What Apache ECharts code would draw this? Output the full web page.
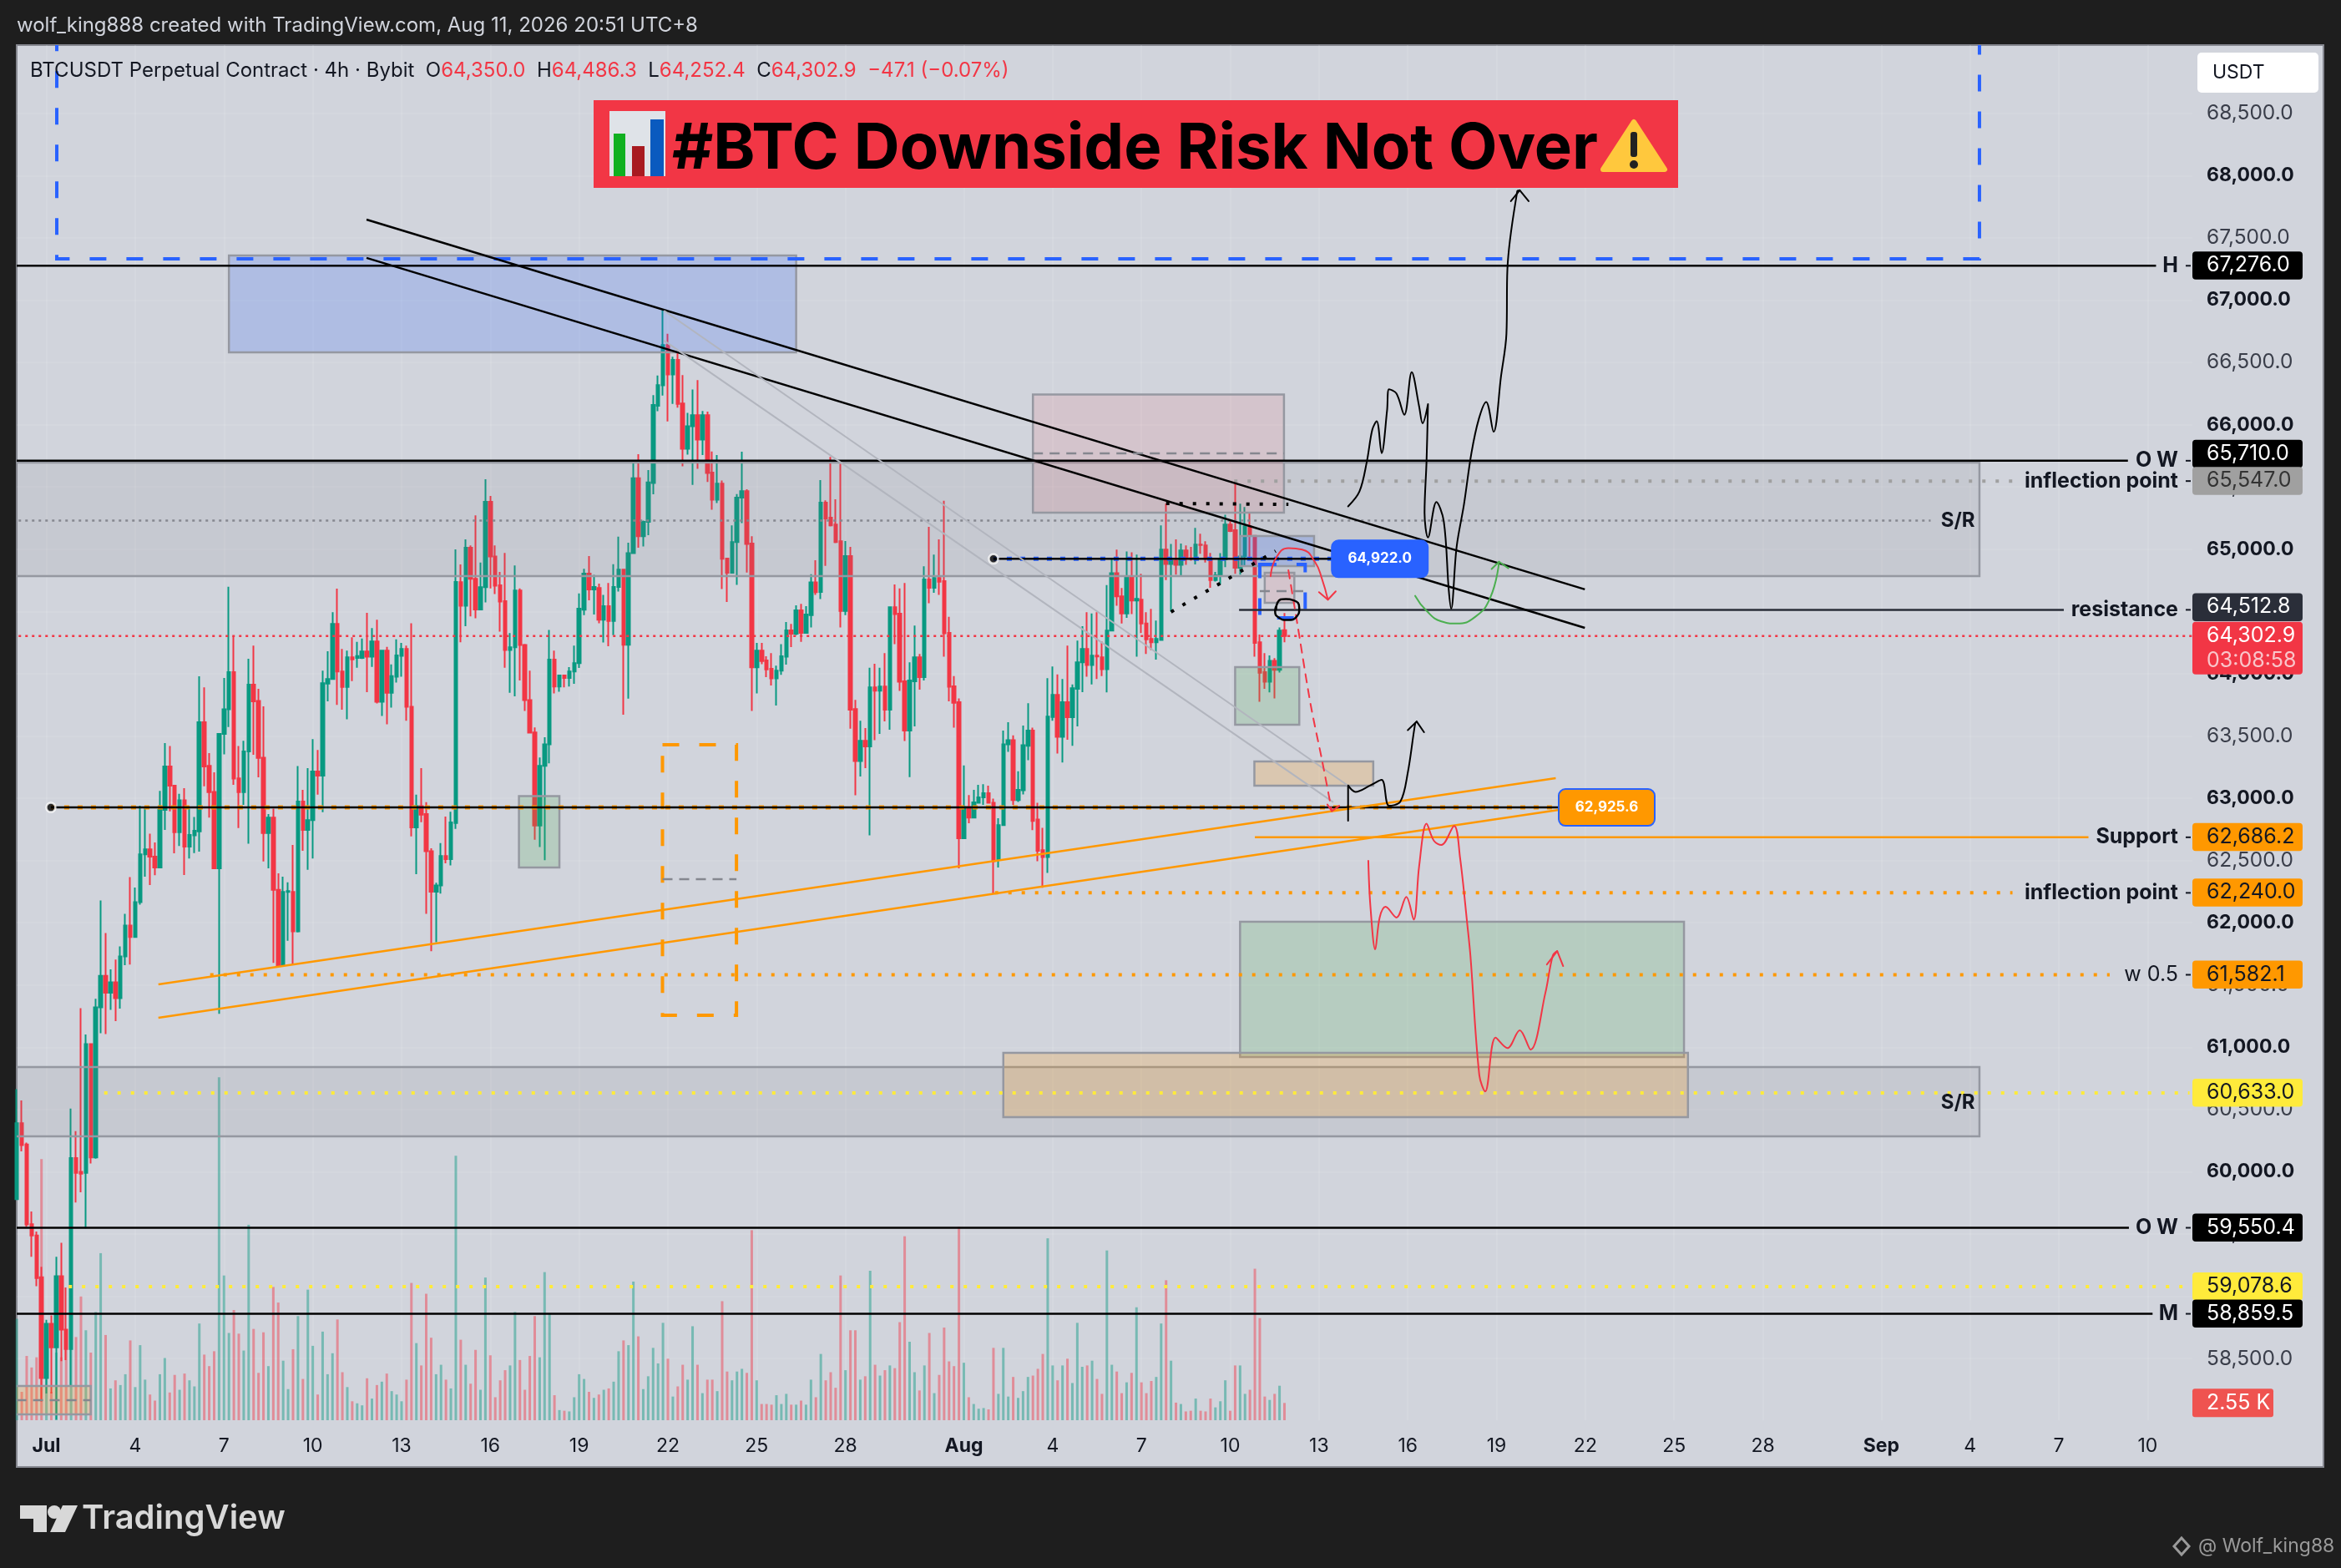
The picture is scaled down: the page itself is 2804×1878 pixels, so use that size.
<!DOCTYPE html>
<html><head><meta charset="utf-8">
<style>html,body{margin:0;padding:0;background:#1e1e1e}#c{width:2804px;height:1878px}</style>
<script src="https://cdn.jsdelivr.net/npm/echarts@6/dist/echarts.min.js"></script>
</head><body><div id="c"></div>
<script>
// 4h bars; index 0 is Jul 1 00:00, the first row is index -6.
const firstBar = -6;
// open, close, low, high
const ohlc = [
[59780,60390,59780,60664],[60391,60215,60164,60573],[60219,59578,59559,60235],[59579,59488,59318,59682],[59488,59146,59081,59520],[59153,58343,58155,59237],
[58343,58779,58220,58812],[58779,58590,58220,58847],[58590,59162,58010,59318],[59162,58733,58480,59429],[58733,58577,58487,59071],[58577,60110,58280,60508],
[60110,59991,59754,60326],[60000,59985,59835,61314],[59991,61025,59546,61103],[61025,60115,60066,61025],[60115,61320,60105,61389],[61320,61574,61112,62178],
[61574,61438,61106,61918],[61438,61522,61301,61626],[61522,61395,61210,61704],[61395,61730,61310,61810],[61730,61977,61660,62071],[61977,61886,61665,62367],
[61886,62165,61880,62282],[62165,62549,62146,62940],[62549,62589,62370,62929],[62589,62531,62303,62716],[62531,62444,62381,62645],[62444,62906,62444,63058],
[62906,63255,62745,63443],[63255,63101,62895,63420],[63101,62727,62558,63107],[62727,62984,62616,63036],[62984,62611,62383,63081],[62611,62705,62515,62917],
[62701,62739,62560,62850],[62734,63610,62571,63979],[63610,63255,63096,63890],[63260,63049,62844,63362],[63051,62437,62433,63208],[62437,63516,61268,63523],
[63516,63715,63353,63966],[63715,64013,63572,64699],[64013,63157,63107,64301],[63159,63049,62761,63420],[63049,63376,62947,63461],[63376,63912,62634,64120],
[63912,63778,63349,64225],[63782,63324,63168,63879],[63326,62721,62493,63738],[62721,62844,62437,62873],[62844,62265,61677,62917],[62265,61659,61650,62397],
[61659,62247,61655,62370],[62247,62254,61856,62325],[62247,61930,61666,62625],[61930,62973,61923,63259],[62973,62745,62578,63067],[62745,62824,62426,63242],
[62824,63215,62515,63474],[63215,63181,63029,63387],[63181,63923,62888,64024],[63921,63957,63778,64180],[63957,64399,63957,64493],[64399,64017,63749,64683],
[64017,63894,63711,64198],[63894,64131,63633,64185],[64131,64115,63940,64293],[64127,64141,64047,64255],[64127,64179,64118,64282],[64179,64136,63852,64489],
[64136,64259,64054,64366],[64259,63774,63761,64433],[63774,64185,63660,64185],[64185,63846,63593,64215],[63846,63980,63727,64074],[63975,64147,63928,64275],
[64143,64199,63975,64248],[64199,63734,63622,64226],[63734,62765,62693,64405],[62765,62937,62390,63028],[62937,62868,62808,63241],[62872,62575,62071,62968],
[62575,62250,61772,62598],[62250,62299,61844,62321],[62299,62536,62234,62640],[62536,62510,62478,62853],[62510,62805,62460,62892],[62800,64736,62753,64999],
[64735,64545,64252,64878],[64545,65012,64382,65079],[65012,64762,64460,65030],[64762,64516,64445,65272],[64516,64695,64516,64892],[64695,65381,64572,65562],
[65381,64941,64684,65428],[64941,64706,64639,65030],[64710,64579,64337,64818],[64583,64190,64047,64970],[64190,64212,63846,64326],[64212,64668,63819,64869],
[64668,64230,63946,64684],[64230,63788,63700,64239],[63788,63526,63526,64025],[63529,62781,62666,63568],[62781,63260,62608,63327],[63260,63433,62503,63490],
[63433,64113,63280,64352],[64113,63897,63842,64185],[63897,63986,63855,63986],[63986,63965,63890,63993],[63965,64017,63897,64053],[64017,64084,63919,64225],
[64084,64522,64046,64645],[64513,64803,64470,64843],[64803,64676,64590,64944],[64676,64697,64475,64793],[64688,64434,64405,64724],[64434,64542,64250,64633],
[64542,64424,64221,64729],[64424,64697,64309,64879],[64697,64836,64660,65100],[64836,64233,63670,64836],[64233,64968,63799,65052],[64968,65569,64968,65715],
[65569,65104,65011,65763],[65104,65219,65021,65230],[65219,65536,65112,65636],[65531,66158,65440,66237],[66152,66318,66108,66394],[66315,66639,66233,66919],
[66639,66403,66025,66729],[66403,66521,66166,66546],[66521,66166,66137,66584],[66170,65806,65665,66398],[65806,65987,65760,66095],[65987,66076,65516,66283],
[66076,65880,65645,66358],[65880,66076,65756,66110],[66076,65611,65540,66104],[65615,65397,65316,65785],[65397,65526,65370,65756],[65526,64923,64679,65551],
[64925,64811,64576,64929],[64811,65057,64806,65191],[65057,65414,64713,65443],[65414,65466,65209,65783],[65466,65041,64813,65481],[65046,64051,63700,65104],
[64051,64185,63841,64248],[64185,64102,64076,64248],[64107,64035,63973,64140],[64040,63962,63906,64165],[63962,64024,63745,64064],[64024,64140,63991,64237],
[64136,64348,64073,64415],[64348,64321,64214,64400],[64321,64509,64310,64549],[64509,64328,64255,64561],[64328,64476,64324,64543],[64471,64733,64371,64798],
[64733,64654,64632,64911],[64657,65374,64599,65555],[65374,65247,64865,65392],[65253,65191,65182,65741],[65198,65057,65048,65401],[65064,64503,64371,65685],
[64503,64945,64471,65066],[64945,63711,63559,65019],[63716,63298,63023,63790],[63298,63461,63175,63622],[63461,63416,63242,63564],[63416,63890,62701,64047],
[63890,63863,63466,64080],[63863,63897,63517,64047],[63897,63711,63617,64165],[63711,64534,63550,64534],[64534,64478,64237,64717],[64482,63935,63861,64684],
[63939,63544,63459,64728],[63544,63946,63170,64091],[63939,64132,63577,64386],[64132,63973,63872,64158],[63973,64757,63946,64862],[64757,64690,64565,65180],
[64690,64768,64650,64956],[64768,64739,64632,65079],[64744,64324,64136,65388],[64328,63895,63778,64456],[63899,63767,63566,63980],[63772,62679,62437,63801],
[62679,62929,62672,63264],[62929,62844,62799,63025],[62844,62967,62844,63068],[62963,63007,62956,63108],[63007,63041,62947,63112],[63041,62963,62958,63101],
[62963,62494,62236,62996],[62505,62784,62444,62840],[62784,63432,62784,63544],[63432,63466,63372,63611],[63466,62985,62947,63504],[62985,63068,62970,63216],
[63064,63426,63030,63584],[63421,63544,63305,63763],[63544,62818,62744,63566],[62829,62578,62494,62963],[62583,62527,62281,62762],[62527,63656,62400,63964],
[63652,63830,63622,64058],[63830,63493,63359,63995],[63493,63772,63287,63957],[63772,63651,63470,64226],[63651,63884,63421,63913],[63879,64092,63577,64266],
[64092,64199,63852,64382],[64199,64069,63975,64494],[64069,64145,63913,64483],[64145,64138,63957,64494],[64132,64036,63980,64259],[64036,64346,63850,64711],
[64346,64807,64346,64919],[64807,64621,64545,64997],[64621,64483,64404,64688],[64483,64780,64449,64981],[64780,64588,64478,64974],[64588,64601,64136,64956],
[64595,64404,64326,64802],[64404,64275,64159,64494],[64279,64252,64190,64521],[64252,64279,64114,64427],[64270,64997,64266,65191],[64997,64881,64751,65365],
[64881,64907,64498,65041],[64907,64874,64796,65079],[64874,64990,64780,65046],[64990,64927,64874,65030],[64927,64923,64907,65019],[64923,65037,64878,65171],
[65037,65033,64963,65124],[65030,64923,64892,65064],[64912,64751,64690,64970],[64751,64791,64740,64818],[64791,64918,64717,64968],[64918,65198,64856,65276],
[65198,65146,65137,65236],[65153,64851,64802,65526],[64851,64941,64796,65365],[64941,65182,64858,65339],[65182,65108,64918,65287],[65108,64248,64136,65108],
[64252,64007,63774,64315],[64013,63935,63879,64165],[63935,64103,63850,64147],[64103,64031,63801,64125],[64031,64346,64009,64371],[64350,64302.9,64252.4,64486.3]
];
// volume in thousands, one per bar
const volumes = [
15,4.2,9.5,7.8,9.3,38.6,8.7,4.2,10,9.3,11,15.9,12.3,18.3,13.3,10,16,24.7,12.6,4.7,5.9,5.2,6.8,11.8,4.9,11.1,6,3.8,2.9,6.8,
9.2,4.1,6.7,4.5,6.9,5.9,5,14.3,9.7,8,10.2,50.7,21.4,12.9,16.3,12.8,10.3,28.9,13.5,7,13,8,19.7,17.4,8.8,4.6,10.5,15.4,6.1,19.3,
11,3.8,13.1,6.8,9.9,14.9,7.1,4.9,2.8,2.5,2.2,6.2,3.2,5.2,5.7,6.9,4.3,3.8,2.8,6,20.3,11.4,8.1,18.7,12.2,6.8,8.2,6,4.7,39.1,
11.9,8.2,5.4,10.4,4.5,21.1,9.6,3.4,5.9,7.4,8.1,16,8.9,4.5,9.5,15.4,9.3,21.9,15.7,3.7,1.5,1.4,1.3,3.4,6.8,6.1,4.2,3.3,3.8,4.5,
4.7,5.7,10.2,11.8,11.1,20.5,12.4,4.6,6.5,10.7,8.4,14.4,9.1,3.5,5,8.2,6,13.9,8.2,4,6,6,4.3,17.6,7.2,5.9,7.2,7.6,7,28.1,
5.9,2.4,2.4,2.3,3.7,2.4,3.9,2.3,2.3,2.9,2.3,6,3.4,9.8,5.9,7.1,4.8,21.4,7.4,13.3,13.3,6,6.5,22.1,8.2,6.6,7.4,8.1,7.7,14.5,
27.2,11.6,7.1,4.4,8.1,12.9,4,6.7,13.7,8.7,8,28.6,8.5,3.4,2.4,1.7,1.8,1.6,10.7,3.9,10.7,3.5,6.4,3.3,4.3,6.4,6.6,7.6,9.8,26.9,
8.1,5.9,8.1,9.1,5.5,14.4,7.9,8.1,8.8,6.1,3.9,25.1,8.2,7.2,4,5.6,7,16.7,5.6,4,5.8,6.4,14.3,20.7,8.8,2.6,2.4,1.3,1.4,3.2,
1.4,1.3,3.2,1.9,2.8,5.9,1.4,8.1,8.1,3.9,4.5,22.4,15.1,3.5,3,3.9,5.1,2.55
];
// time axis: bar index of each label and its text
const timeTicks = [0,18,36,54,72,90,108,126,144,162,186,204,222,240,258,276,294,312,330,348,372,390,408,426];
const timeLabels = ["Jul","4","7","10","13","16","19","22","25","28","Aug","4","7","10","13","16","19","22","25","28","Sep","4","7","10"];
const priceTicks = [58500,59000,59500,60000,60500,61000,61500,62000,62500,63000,63500,64000,64500,65000,65500,66000,66500,67000,67500,68000,68500];
// price tags on the right axis
const tagPrices = [67276.0,65710.0,65547.0,64512.8,64302.9,62686.2,62240.0,61582.1,60633.0,59550.4,59078.6,58859.5];
const tagLabels = ["H","O W","inflection point","resistance","","Support","inflection point","w 0.5","","O W","","M"];
// drawings, in bar index and price: x1, p1, x2, p2, kind
const zones = [
[-10,65696,391.9,64784,"grey"],[-10,60841,391.9,60285,"grey"],[37,67359,152,66581,"blue"],[200,66242,250.9,65294,"pink"],
[242,65106,257,64864,"blue"],[247,64811,253,64569,"pink"],[241,64053,254,63590,"green"],[95.8,63017,104,62444,"green"],
[244.9,63296,269,63101,"tan"],[242,62008,332,60922,"green"],[194,60955,332.8,60439,"tan"],[-10,58280,9,58052,"tan"],
[124.9,63430,139.9,61257,"orangeDash"],[2.1,69300,391.9,67332,"blueDash"],[246,64878,255.2,64449,"blueDash"]
];
const segments = [
[-7,67276,427.7,67276,"black"],[-7,65710,422,65710,"black"],[240.8,65547,398.6,65547,"greyDots"],[241.8,64512.8,409,64512.8,"dark"],
[245,62686.2,414,62686.2,"orange"],[192.3,62240,398.6,62240,"orangeDots"],[33.2,61582.1,418.3,61582.1,"orangeDots"],[11.7,60633,434.5,60633,"yellowDots"],
[-7,59550.4,422.2,59550.4,"black"],[4.5,59078.6,434.5,59078.6,"yellowDots"],[-7,58859.5,427,58859.5,"black"],[-7,64302.9,436,64302.9,"redDots"],
[-7,65230,382,65230,"fineDots"],[0.9,62925.6,306.6,62925.6,"orangeDash"],[0.9,62925.6,306.6,62925.6,"black"],[192,64922,260.6,64922,"blueFine"],[192,64922,260.6,64922,"black"],
[64.9,67647,311.9,64677,"black"],[64.9,67339,311.9,64368,"black"],[125.2,66916,263.9,63101,"pale"],[125.2,66675,260.9,62967,"pale"],
[22.7,61505,306,63161,"orange"],[22.7,61237,306.6,62907,"orange"],[227,65367,251.8,65360,"blackDots"],[228,64496,249.2,64985,"blackDots"],
[200,65770,250.9,65770,"midDash"],[246,64663,255.2,64663,"midDash"],[124.9,62350,139.9,62350,"midDash"],[-6.1,58166,9,58166,"midDash"]
];
const blackCurve = [[263.9,65344],[266.2,65463],[267.7,65703],[268.8,65959],[269.7,66028],[270.7,65771],[271.8,66113],[272.2,66284],[273.7,66250],[275.3,66079],[276.8,66421],[278.3,66147],[279,66011],[280.1,66165],[279.8,65703],[279.4,65292],[280.1,65094],[281.8,65378],[283.3,65224],[284.3,64676],[284.8,64522],[285.9,65018],[287.4,65361],[288.9,65771],[290.4,66045],[291.9,66182],[293.4,65942],[294.9,66387],[296,66729],[296.2,67251],[298.2,67875],[298.7,67882]];
const blackHead = [[296.9,67795],[298.7,67882],[300.5,67795]];
const blackCurve2 = [[263.9,62819],[263.9,63103],[265.4,63051],[268.4,63103],[270.7,63147],[272.2,62939],[274.5,62973],[276,63205],[277.5,63599],[277.8,63616]];
const blackHead2 = [[276,63547],[277.8,63616],[279.3,63530]];
const redCurve = [[268,62497],[268.4,62145],[269.4,61786],[270.3,62042],[271.5,62128],[273.7,62042],[275.7,62207],[277.2,62025],[278.3,62453],[279.8,62795],[281.3,62658],[282.8,62624],[285.4,62778],[286.6,62521],[288.1,61974],[288.7,61736],[290.5,60777],[291.7,60645],[293.8,61077],[296.2,60993],[298.7,61137],[300.9,60981],[303.9,61437],[305.4,61736],[306.3,61772]];
const redHead = [[304.2,61665],[306.3,61772],[307.5,61652]];
const redDash = [[251.8,64830],[253.6,64403],[256.3,63753],[258.6,63308],[260.6,62897]];
const redDashHead = [[259.7,62949],[260.6,62897],[262.1,62939]];
const redArc = [[248.2,64784],[249.3,64930],[251.8,65008],[254.6,64997],[257.2,64896],[258.6,64762],[259.8,64594]];
const redArcHead = [[258,64655],[259.8,64594],[261.4,64661]];
const greenArc = [[277.5,64625],[279.8,64505],[282.8,64420],[285.9,64403],[289.6,64454],[292.7,64608],[294.5,64899]];
const greenHead = [[293,64841],[294.5,64899],[296.4,64847]];
const circleStroke = [[249.3,64516],[249.6,64572],[251.3,64599],[252.9,64588],[254,64527],[253.5,64460],[251.5,64431],[249.9,64449],[249.1,64505],[249.3,64540]];
const handles = [[0.9,62925.6],[192,64922]];
const srNotes = [[391,65230,"S/R"],[391,60553,"S/R"]];
const anchoredTags = [[260.6,64922,"64,922.0","#2962ff"],[306.6,62925.6,"62,925.6","#ff9800"]];

const FONT = 'Inter, Roboto, sans-serif';
const UP = '#089981', DOWN = '#f23645';
const tagFills = ['#000','#000','#a0a0a0','#2a2e39','#f23645','#ff9800','#ff9800','#ff9800','#ffeb3b','#000','#ffeb3b','#000'];
const tagInks = ['#fff','#fff','#333','#fff','#fff','#131722','#131722','#131722','#131722','#fff','#131722','#fff'];
const tagShifts = [0,-8,0,-3,0,0,0,0,0,0,0,0];
const tagLabelWeights = [700,700,700,700,700,700,700,400,700,700,700,700];
const zoneStyle = {
  grey:{fill:'rgba(120,123,134,0.12)',stroke:'#9598a1',lineWidth:2.5},
  blue:{fill:'rgba(41,98,255,0.2)',stroke:'#9598a1',lineWidth:2.5},
  pink:{fill:'rgba(242,54,69,0.1)',stroke:'#9598a1',lineWidth:2.5},
  green:{fill:'rgba(76,175,80,0.2)',stroke:'#9598a1',lineWidth:2.5},
  tan:{fill:'rgba(255,152,0,0.2)',stroke:'#9598a1',lineWidth:2.5},
  orangeDash:{fill:'none',stroke:'#ff9800',lineWidth:4,lineDash:[20,24]},
  blueDash:{fill:'none',stroke:'#2962ff',lineWidth:4,lineDash:[20,24]}
};
const segStyle = {
  black:{stroke:'#000',lineWidth:2.5}, dark:{stroke:'#2a2e39',lineWidth:2.5}, orange:{stroke:'#ff9800',lineWidth:2.5},
  pale:{stroke:'#b2b5be',lineWidth:2},
  greyDots:{stroke:'#a0a0a0',lineWidth:4,lineDash:[4,12]}, orangeDots:{stroke:'#ff9800',lineWidth:4,lineDash:[4,12]},
  yellowDots:{stroke:'#ffeb3b',lineWidth:4,lineDash:[4,12]}, redDots:{stroke:'#f23645',lineWidth:2.5,lineDash:[3,5]},
  fineDots:{stroke:'#85878f',lineWidth:2.5,lineDash:[3,5]}, blackDots:{stroke:'#000',lineWidth:4,lineDash:[4,12]},
  orangeDash:{stroke:'#ff9800',lineWidth:5,lineDash:[6,10]}, blueFine:{stroke:'#2962ff',lineWidth:5,lineDash:[6,10]},
  midDash:{stroke:'#85878f',lineWidth:2.5,lineDash:[12,8]}
};
const PANE_LEFT=20, PANE_RIGHT=2626, PANE_TOP=54, PANE_BOTTOM=1701, BAR_PX=5.908;
const X_MIN = (PANE_LEFT-55.6)/BAR_PX, X_MAX = X_MIN + (PANE_RIGHT-PANE_LEFT)/BAR_PX;
const Y_MIN = 58005, Y_MAX = 69048;

const candleData = ohlc.map((r,i)=>[i+firstBar,r[0],r[1],r[2],r[3]]);
const volData = volumes.map((v,i)=>({value:[i+firstBar,v],itemStyle:{color:(ohlc[i][1]>=ohlc[i][0])?'rgba(8,153,129,0.45)':'rgba(242,54,69,0.45)'}}));

function curve(data,color,width,smooth,dash){
  return {type:'line',data,xAxisIndex:0,yAxisIndex:0,symbol:'none',smooth:smooth,z:8,silent:true,clip:true,animation:false,
    lineStyle:{color,width,type:dash||'solid',join:'round',cap:'round'}};
}
function indexSeries(arr,render,extra){
  return Object.assign({type:'custom',data:arr.map((_,k)=>[k]),encode:{x:-1,y:-1},xAxisIndex:0,yAxisIndex:0,renderItem:render,silent:true,animation:false},extra);
}

const chart = echarts.init(document.getElementById('c'),null,{renderer:'canvas',width:2804,height:1878});
const axisCommon = {type:'value',min:X_MIN,max:X_MAX,axisLine:{show:false},axisTick:{show:false}};
chart.setOption({
  animation:false,
  backgroundColor:'#1e1e1e',
  grid:[
    {left:PANE_LEFT,width:PANE_RIGHT-PANE_LEFT,top:PANE_TOP,height:PANE_BOTTOM-PANE_TOP},
    {left:PANE_LEFT,width:PANE_RIGHT-PANE_LEFT,top:1000,height:PANE_BOTTOM-1000}
  ],
  xAxis:[
    Object.assign({},axisCommon,{gridIndex:0,splitLine:{show:true,lineStyle:{color:'rgba(255,255,255,0.10)',width:2}},
      axisTick:{show:false,customValues:timeTicks},
      axisLabel:{customValues:timeTicks,margin:20,hideOverlap:false,fontFamily:FONT,
        formatter:v=>{const t=timeLabels[timeTicks.indexOf(v)]; return /[A-Z]/.test(t)?'{b|'+t+'}':'{r|'+t+'}';},
        rich:{b:{fontSize:23,fontWeight:700,color:'#131722',fontFamily:FONT},r:{fontSize:23,color:'#131722',fontFamily:FONT}}}}),
    Object.assign({},axisCommon,{gridIndex:1,show:false,splitLine:{show:false}})
  ],
  yAxis:[
    {type:'value',gridIndex:0,position:'right',min:Y_MIN,max:Y_MAX,axisLine:{show:false},axisTick:{show:false,customValues:priceTicks},
      splitLine:{show:true,lineStyle:{color:'rgba(255,255,255,0.07)',width:2}},
      axisLabel:{customValues:priceTicks,margin:17,align:'left',showMinLabel:true,showMaxLabel:true,hideOverlap:false,fontFamily:FONT,
        formatter:v=>{const t=v.toLocaleString('en-US',{minimumFractionDigits:1}); return v%1000===0?'{b|'+t+'}':'{r|'+t+'}';},
        rich:{b:{fontSize:23,fontWeight:700,color:'#131722',fontFamily:FONT},r:{fontSize:24.5,color:'#3a3e4a',fontFamily:FONT}}}},
    {type:'value',gridIndex:1,min:0,max:(PANE_BOTTOM-1000)/8.1,show:false,splitLine:{show:false}}
  ],
  graphic:[
    {type:'rect',z:-10,shape:{x:20,y:54,width:2763,height:1703},style:{fill:'#d1d4dc',stroke:'#85878f',lineWidth:2}},
    {type:'text',z:100,x:20,y:31,style:{text:'wolf_king888 created with TradingView.com, Aug 11, 2026 20:51 UTC+8',fill:'#d1d4dc',font:'24px '+FONT,textVerticalAlign:'middle'}},
    {type:'text',z:100,x:36,y:85,style:{text:'{k|BTCUSDT Perpetual Contract · 4h · Bybit}  {k|O}{v|64,350.0}  {k|H}{v|64,486.3}  {k|L}{v|64,252.4}  {k|C}{v|64,302.9}  {v|−47.1 (−0.07%)}',
      textVerticalAlign:'middle',font:'24px '+FONT,rich:{k:{fill:'#131722',font:'24px '+FONT},v:{fill:'#f23645',font:'24px '+FONT}}}},
    {type:'rect',z:100,shape:{x:2632,y:63,width:145,height:48,r:5},style:{fill:'#fff'}},
    {type:'text',z:101,x:2650,y:87,style:{text:'USDT',fill:'#131722',font:'23px '+FONT,textVerticalAlign:'middle'}},
    {type:'rect',z:100,shape:{x:711,y:120,width:1299,height:105},style:{fill:'#f23645'}},
    {type:'rect',z:101,shape:{x:730,y:133,width:67,height:78},style:{fill:'#dfe3e8'}},
    {type:'rect',z:102,shape:{x:735,y:160,width:14,height:51},style:{fill:'#10b020'}},
    {type:'rect',z:102,shape:{x:757,y:175,width:15,height:36},style:{fill:'#a81a20'}},
    {type:'rect',z:102,shape:{x:779,y:143,width:16,height:68},style:{fill:'#0a5abf'}},
    {type:'text',z:101,x:805,y:179,style:{text:'#BTC Downside Risk Not Over',fill:'#000',font:'700 76px '+FONT,textVerticalAlign:'middle'}},
    {type:'polygon',z:101,shape:{points:[[1957,146],[1994,203],[1920,203]]},style:{fill:'#ffc83d',stroke:'#ffc83d',lineWidth:6,lineJoin:'round'}},
    {type:'rect',z:102,shape:{x:1953,y:158,width:8,height:30,r:3},style:{fill:'#222'}},
    {type:'circle',z:102,shape:{cx:1957,cy:197,r:5},style:{fill:'#222'}},
    {type:'polygon',z:100,shape:{points:[[24,1803],[56,1803],[56,1835],[40,1835],[40,1819],[24,1819]]},style:{fill:'#d8d8d8'}},
    {type:'circle',z:100,shape:{cx:65,cy:1811,r:8},style:{fill:'#d8d8d8'}},
    {type:'polygon',z:100,shape:{points:[[75,1803],[93,1803],[78,1835],[60,1835]]},style:{fill:'#d8d8d8'}},
    {type:'text',z:100,x:98,y:1819,style:{text:'TradingView',fill:'#d8d8d8',font:'600 40px '+FONT,textVerticalAlign:'middle'}},
    {type:'polygon',z:100,shape:{points:[[2613,1842],[2622,1852],[2613,1862],[2604,1852]]},style:{fill:'none',stroke:'#9a9a9a',lineWidth:3}},
    {type:'text',z:100,x:2633,y:1852,style:{text:'@ Wolf_king88',fill:'#9a9a9a',font:'23px '+FONT,textVerticalAlign:'middle'}}
  ],
  series:[
    {type:'bar',xAxisIndex:1,yAxisIndex:1,data:volData,barWidth:3,silent:true,z:2,animation:false,large:false},
    {type:'candlestick',xAxisIndex:0,yAxisIndex:0,data:candleData,encode:{x:0,y:[1,2,3,4]},barWidth:4,silent:true,z:3,animation:false,clip:true,
      itemStyle:{color:UP,color0:DOWN,borderColor:UP,borderColor0:DOWN,borderWidth:2}},
    indexSeries(zones,(p,api)=>{
      const z=zones[api.value(0)], a=api.coord([z[0],z[1]]), b=api.coord([z[2],z[3]]);
      return {type:'rect',shape:{x:a[0],y:a[1],width:b[0]-a[0],height:b[1]-a[1]},style:Object.assign({},zoneStyle[z[4]])};
    },{z:5,clip:true}),
    indexSeries(segments,(p,api)=>{
      const s=segments[api.value(0)], a=api.coord([s[0],s[1]]), b=api.coord([s[2],s[3]]);
      return {type:'line',shape:{x1:a[0],y1:a[1],x2:b[0],y2:b[1]},style:Object.assign({},segStyle[s[4]])};
    },{z:6,clip:true}),
    curve(blackCurve,'#000',2,0.35), curve(blackHead,'#000',2,false),
    curve(blackCurve2,'#000',2,0.35), curve(blackHead2,'#000',2,false),
    curve(redCurve,'#f23645',2,0.35), curve(redHead,'#f23645',2,false),
    curve(redDash,'#f23645',2,0.3,[10,8]), curve(redDashHead,'#f23645',2,false),
    curve(redArc,'#f23645',2,0.5), curve(redArcHead,'#f23645',2,false),
    curve(greenArc,'#4caf50',2,0.5), curve(greenHead,'#4caf50',2,false),
    curve(circleStroke,'#000',2.5,0.6),
    {type:'scatter',xAxisIndex:0,yAxisIndex:0,data:handles,symbolSize:11,z:9,silent:true,animation:false,itemStyle:{color:'#000',borderColor:'#fff',borderWidth:2.5}},
    indexSeries(srNotes,(p,api)=>{
      const s=srNotes[api.value(0)], a=api.coord([s[0],s[1]]);
      return {type:'text',x:a[0],y:a[1],style:{text:s[2],fill:'#131722',font:'700 24px '+FONT,textAlign:'right',textVerticalAlign:'middle'}};
    },{z:9,clip:false}),
    indexSeries(anchoredTags,(p,api)=>{
      const s=anchoredTags[api.value(0)], a=api.coord([s[0],s[1]]);
      return {type:'group',children:[
        {type:'rect',shape:{x:a[0],y:a[1]-22,width:115,height:44,r:8},style:{fill:s[3],stroke:'#2962ff',lineWidth:2}},
        {type:'text',x:a[0]+57.5,y:a[1],style:{text:s[2],fill:'#fff',font:'700 17px '+FONT,textAlign:'center',textVerticalAlign:'middle'}}
      ]};
    },{z:10,clip:false}),
    indexSeries(tagPrices,(p,api)=>{
      const k=api.value(0), y=api.coord([0,tagPrices[k]])[1], top=y-17+tagShifts[k], kids=[];
      const isLast=k===4, h=isLast?63:33.5;
      kids.push({type:'rect',shape:{x:2626,y:top,width:132,height:h,r:4},style:{fill:tagFills[k]}});
      kids.push({type:'text',x:2643,y:top+16.5,style:{text:tagPrices[k].toLocaleString('en-US',{minimumFractionDigits:1,maximumFractionDigits:1}),fill:tagInks[k],font:'25px '+FONT,textVerticalAlign:'middle'}});
      if(isLast) kids.push({type:'text',x:2643,y:top+47,style:{text:'03:08:58',fill:'#f9c6ca',font:'25px '+FONT,textVerticalAlign:'middle'}});
      if(tagLabels[k]){
        kids.push({type:'rect',shape:{x:2618,y:y-1,width:6,height:2},style:{fill:'#131722'}});
        kids.push({type:'text',x:2609,y:y,style:{text:tagLabels[k],fill:'#131722',font:tagLabelWeights[k]+' 25px '+FONT,textAlign:'right',textVerticalAlign:'middle'}});
      }
      return {type:'group',children:kids};
    },{z:11,clip:false}),
    {type:'custom',xAxisIndex:1,yAxisIndex:1,data:[[0,volumes[volumes.length-1]]],encode:{x:0,y:1},silent:true,animation:false,z:11,clip:false,
      renderItem:(p,api)=>{
        const y=api.coord([0,api.value(1)])[1];
        return {type:'group',children:[
          {type:'rect',shape:{x:2626,y:y-17,width:97,height:34,r:3},style:{fill:'#ef5350'}},
          {type:'text',x:2643,y:y,style:{text:'2.55 K',fill:'#fff',font:'25px '+FONT,textVerticalAlign:'middle'}}
        ]};
      }}
  ]
});
</script></body></html>
